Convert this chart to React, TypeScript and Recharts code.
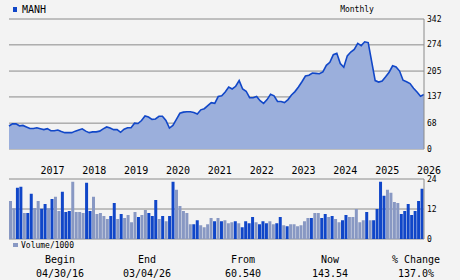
import {
  AreaChart, Area, BarChart, Bar, Cell, XAxis, YAxis, CartesianGrid,
} from 'recharts'

// monthly closes, 04/2016 .. 03/2026
const prices = [
  60.5, 66, 66, 61, 62, 58, 54, 54, 56, 53.5,
  51, 53.5, 48, 48, 50, 46, 43, 43, 43, 47,
  50, 53, 47, 43, 45, 45, 47, 53, 58, 55,
  51, 51, 44, 52, 56, 56, 68, 67, 75, 87,
  84, 78, 79, 86, 86, 75, 55, 62, 78, 94,
  97, 98, 98, 96, 92, 103, 106, 114, 122, 120,
  138, 140, 150, 163, 158, 165, 180, 158, 152, 135,
  135, 138, 127, 120, 130, 144, 140, 125, 125, 122,
  130, 142, 151, 163, 177, 192, 194, 200, 199, 198,
  203, 220, 228, 248, 252, 225, 215, 245, 255, 262,
  278, 272, 282, 280, 230, 180, 176, 179, 190, 202,
  219, 216, 205, 181, 177, 172, 160, 150, 139, 143.5,
]

// volume / 1000
const volumes = [
  15.2, 12.3, 20.5, 20.9, 10.4, 10.4, 18.1, 12.4, 15.2, 12.1,
  14, 12.3, 16, 16.9, 11.2, 18.9, 10.8, 11.2, 22.9, 10.8,
  10.8, 10.4, 22.5, 11.2, 16.9, 10, 10.4, 9.2, 8, 9.2,
  14.4, 8, 10, 8.4, 9.6, 6.7, 10.8, 8.8, 9.6, 11.6,
  10.4, 9.2, 15.6, 8, 9.2, 7.1, 9.2, 22.9, 19.7, 13.2,
  11.2, 10.4, 5.9, 5.9, 7.5, 5.5, 4.7, 5.9, 8.4, 7.1,
  8.4, 7.1, 7.5, 6.3, 6.7, 7.1, 6.3, 4.7, 7.1, 6.3,
  8.8, 6.7, 5.9, 7.1, 6.3, 7.1, 5.9, 6.3, 8.8, 5.5,
  5.1, 5.9, 5.9, 5.1, 5.5, 7.1, 8.4, 8.4, 10.4, 10.4,
  8.4, 10, 8.8, 9.2, 8, 6.7, 7.5, 9.6, 8.8, 8.8,
  12, 6.7, 7.5, 10.8, 7.5, 7.5, 12, 22.9, 17.3, 19.7,
  18.5, 14.8, 14.4, 10, 11.2, 14, 9.6, 11.2, 15.2, 20.1,
]

// 1 = up month (dark bar), 0 = down month (light bar)
const upMonths = [
  0, 0, 1, 1, 0, 1, 1, 0, 0, 1,
  1, 0, 1, 0, 0, 1, 1, 1, 0, 0,
  0, 0, 1, 1, 0, 0, 0, 0, 0, 1,
  1, 0, 1, 0, 0, 0, 0, 1, 0, 0,
  1, 1, 1, 0, 1, 0, 1, 1, 0, 0,
  0, 0, 0, 1, 1, 0, 0, 0, 0, 1,
  0, 1, 0, 0, 0, 1, 0, 1, 1, 1,
  1, 0, 1, 1, 1, 0, 0, 1, 1, 0,
  1, 0, 0, 0, 0, 0, 0, 1, 0, 0,
  1, 1, 0, 1, 0, 0, 1, 1, 0, 0,
  0, 0, 0, 1, 0, 1, 1, 1, 1, 0,
  0, 0, 0, 1, 1, 1, 1, 1, 1, 1,
]

const yearLabels = ['2017', '2018', '2019', '2020', '2021', '2022', '2023', '2024', '2025', '2026']
const yearTicks = [9, 21, 33, 45, 57, 69, 81, 93, 105, 117]
const priceTicks = [0, 68, 137, 205, 274, 342]
const volumeTicks = [0, 12, 24]

const stats = [
  { label: 'Begin', value: '04/30/16', x: 60 },
  { label: 'End', value: '03/04/26', x: 147 },
  { label: 'From', value: '60.540', x: 243 },
  { label: 'Now', value: '143.54', x: 330 },
  { label: '% Change', value: '137.0%', x: 416 },
]

const priceData = prices.map((p, i) => ({ i, price: p }))
const volumeData = volumes.map((v, i) => ({ i, vol: v, up: upMonths[i] }))

const FONT = '"DejaVu Sans Mono", monospace'
const GRID = '#8a8a8a'
const LINE = '#1147c8'
const DARK = '#1046c8'
const LIGHT = '#8898c3'

function YearTick(props: any) {
  const { x, y, payload } = props
  const idx = yearTicks.indexOf(payload.value)
  return (
    <text x={x} y={y + 21} fontSize={10} fontFamily={FONT} fill="#000" dominantBaseline="central">
      {yearLabels[idx]}
    </text>
  )
}

function RightTick(props: any) {
  const { x, y, payload } = props
  return (
    <text x={x} y={y} fontSize={8} fontFamily={FONT} fill="#000" dominantBaseline="central">
      {payload.value}
    </text>
  )
}

export default function App() {
  return (
    <div style={{ position: 'absolute', left: 0, top: 0, width: 460, height: 280, background: '#f3f3f3', overflow: 'hidden' }}>
      <div style={{ position: 'absolute', left: 0, top: 0 }}>
        <AreaChart width={460} height={280} data={priceData} margin={{ top: 19, right: 0, left: 9, bottom: 101 }}>
          <CartesianGrid vertical={false} stroke={GRID} />
          <XAxis
            dataKey="i" type="number" domain={[0, 119]} ticks={yearTicks} interval={0}
            height={30} tickLine={false} axisLine={false} tickSize={0} tickMargin={0} tick={<YearTick />}
          />
          <YAxis yAxisId="l" orientation="left" width={0} domain={[0, 342]} ticks={priceTicks} tick={false} tickLine={false} axisLine={{ stroke: GRID }} />
          <YAxis orientation="right" width={36} domain={[0, 342]} ticks={priceTicks} tickLine={false} tickSize={0} tickMargin={3} axisLine={{ stroke: GRID }} tick={<RightTick />} />
          <Area type="linear" dataKey="price" stroke={LINE} strokeWidth={1.6} fill="#9bafdc" fillOpacity={1} isAnimationActive={false} dot={false} />
        </AreaChart>
      </div>
      <div style={{ position: 'absolute', left: 0, top: 0 }}>
        <BarChart width={460} height={280} data={volumeData} margin={{ top: 179, right: 0, left: 9, bottom: 41 }} barCategoryGap={0} barGap={0}>
          <CartesianGrid vertical={false} stroke={GRID} />
          <XAxis dataKey="i" hide />
          <YAxis yAxisId="l" orientation="left" width={0} domain={[0, 24]} ticks={volumeTicks} tick={false} tickLine={false} axisLine={{ stroke: GRID }} />
          <YAxis orientation="right" width={36} domain={[0, 24]} ticks={volumeTicks} tickLine={false} tickSize={0} tickMargin={3} axisLine={{ stroke: GRID }} tick={<RightTick />} />
          <Bar dataKey="vol" isAnimationActive={false}>
            {volumeData.map((d) => (
              <Cell key={d.i} fill={d.up ? DARK : LIGHT} />
            ))}
          </Bar>
        </BarChart>
      </div>
      <svg width={460} height={280} style={{ position: 'absolute', left: 0, top: 0 }} fontFamily={FONT}>
        <rect x={13} y={7} width={4} height={5} fill={DARK} />
        <text x={22} y={9} fontSize={10} dominantBaseline="central">MANH</text>
        <text x={357} y={9} fontSize={8} textAnchor="middle" dominantBaseline="central">Monthly</text>
        <rect x={13} y={243} width={5} height={4} fill={LIGHT} />
        <text x={21} y={245} fontSize={8} dominantBaseline="central">Volume/1000</text>
        {stats.map((s) => (
          <g key={s.label}>
            <text x={s.x} y={259} fontSize={10} textAnchor="middle" dominantBaseline="central">{s.label}</text>
            <text x={s.x} y={273} fontSize={10} textAnchor="middle" dominantBaseline="central">{s.value}</text>
          </g>
        ))}
      </svg>
    </div>
  )
}
